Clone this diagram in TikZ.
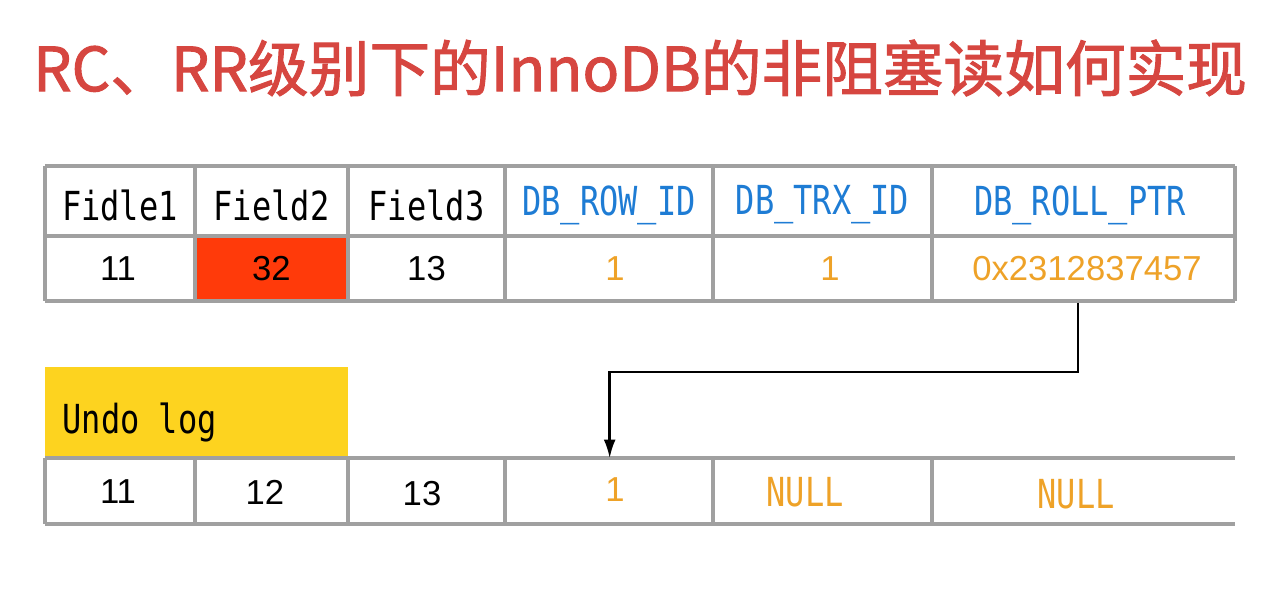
\documentclass[tikz,border=0pt]{standalone}
\usepackage{fontspec}
\usepackage{graphicx}
\setmainfont{Liberation Sans}
\setmonofont{DejaVu Sans Mono}
\newfontfamily\cjk[FakeBold=1.6]{Noto Sans CJK SC}
\usetikzlibrary{arrows.meta}

\definecolor{titlered}{RGB}{214,70,64}
\definecolor{gridgray}{RGB}{160,160,160}
\definecolor{keyblue}{RGB}{30,124,212}
\definecolor{valorange}{RGB}{238,162,40}
\definecolor{cellred}{RGB}{255,58,10}
\definecolor{undoyellow}{RGB}{253,211,31}

\newcommand\tallmono[1]{\scalebox{1}[1.25]{#1}}

\tikzset{every picture/.style={line width=0.75pt}}
\tikzset{
  grid/.style={draw=gridgray,line width=3pt},
  cell/.style={inner sep=0pt,minimum height=50pt},
  head/.style={cell,font=\ttfamily\fontsize{24}{24}\selectfont},
  val/.style={cell,font=\fontsize{26}{26}\selectfont},
  link/.style={draw=black,line width=1.8pt,-{Latex[length=14pt,width=9pt]}}
}

\begin{document}
\begin{tikzpicture}[x=0.75pt,y=0.75pt,yscale=-1,xscale=1]
\useasboundingbox (0,0) rectangle (1281,616);

% Title
\draw (640,68) node [inner sep=0pt,text=titlered,font=\cjk\fontsize{45.5}{45.5}\selectfont] (title) {RC、RR级别下的InnoDB的非阻塞读如何实现};

%Shape: Rectangle (undo log label)
\fill [undoyellow] (45,367) rectangle (348,456);

% Header row
\draw (120,205) node [head,minimum width=112.5pt] (h1) {\tallmono{Fidle1}};
\draw (271.5,205) node [head,minimum width=114.75pt] (h2) {\tallmono{Field2}};
\draw (426.5,205) node [head,minimum width=117.75pt] (h3) {\tallmono{Field3}};
\draw (609,205) node [head,minimum width=156pt,text=keyblue] (h4) {\tallmono{DB\_ROW\_ID}};
\draw (822.5,205) node [head,minimum width=164.25pt,text=keyblue] (h5) {\tallmono{DB\_TRX\_ID}};
\draw (1080,205) node [head,minimum width=227.25pt,text=keyblue] (h6) {\tallmono{DB\_ROLL\_PTR}};

% Value row
\draw (118,269) node [val,minimum width=112.5pt] (v1) {11};
\draw (271.5,269) node [val,minimum width=114.75pt,fill=cellred] (v2) {32};
\draw (426.5,269) node [val,minimum width=117.75pt] (v3) {13};
\draw (615,269) node [val,minimum width=156pt,text=valorange] (v4) {1};
\draw (830,269) node [val,minimum width=164.25pt,text=valorange] (v5) {1};
\draw (1087,269) node [val,minimum width=227.25pt,text=valorange] (ptr) {0x2312837457};

% Undo log row
\draw (62,422) node [anchor=west,inner sep=0pt,font=\ttfamily\fontsize{24}{24}\selectfont] (undolbl) {\tallmono{Undo log}};
\draw (118,492) node [val,minimum width=112.5pt] (u1) {11};
\draw (265,492) node [val,minimum width=114.75pt] (u2) {12};
\draw (422,494) node [val,minimum width=117.75pt] (u3) {13};
\draw (615,490) node [val,minimum width=156pt,text=valorange] (u4) {1};
\draw (805,492) node [head,minimum width=164.25pt,text=valorange] (u5) {\tallmono{NULL}};
\draw (1076,494) node [head,minimum width=227.25pt,text=valorange] (u6) {\tallmono{NULL}};

%Straight Lines (upper table)
\draw [grid] (45,166) -- (1235,166);
\draw [grid] (45,236) -- (1235,236);
\draw [grid] (45,301) -- (1235,301);
\foreach \x in {45,195,348,505,713,932,1235}
  \draw [grid] (\x,166) -- (\x,301);

%Straight Lines (undo log table)
\draw [grid] (45,458) -- (1235,458);
\draw [grid] (45,524) -- (1235,524);
\foreach \x in {45,195,348,505,713,932}
  \draw [grid] (\x,458) -- (\x,524);

% Roll pointer
\draw [link] (ptr.south) ++(-9,0) -- ++(0,69) -| ([xshift=-4pt,yshift=1.5pt]u4.north);

\end{tikzpicture}
\end{document}
